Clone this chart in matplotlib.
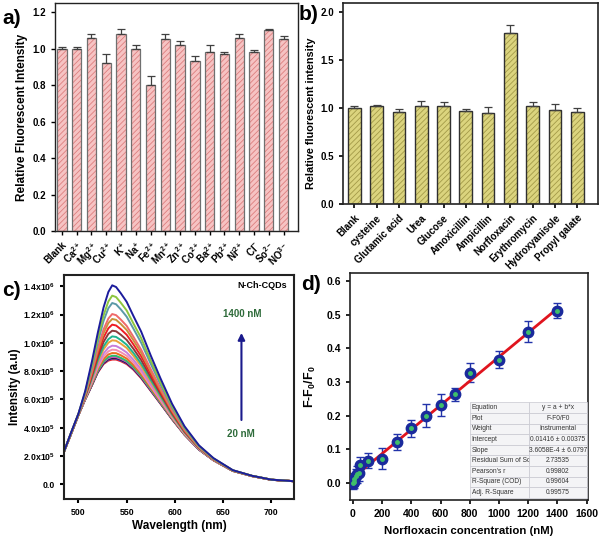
import matplotlib
matplotlib.use("Agg")
import matplotlib.pyplot as plt
import numpy as np

plt.rcParams['font.family'] = ['Liberation Sans', 'DejaVu Sans']
plt.rcParams['font.weight'] = 'bold'
plt.rcParams['mathtext.fontset'] = 'custom'
plt.rcParams['mathtext.rm'] = 'Liberation Sans:bold'
plt.rcParams['mathtext.bf'] = 'Liberation Sans:bold'
plt.rcParams['mathtext.it'] = 'Liberation Sans:bold'
plt.rcParams['mathtext.default'] = 'bf'
plt.rcParams['hatch.linewidth'] = 0.6
plt.rcParams['xtick.direction'] = 'out'
plt.rcParams['ytick.direction'] = 'out'

# ---------------- data ----------------
ions = ["Blank", "Ca$^{2+}$", "Mg$^{2+}$", "Cu$^{2+}$", "K$^{+}$", "Na$^{+}$", "Fe$^{2+}$",
        "Mn$^{2+}$", "Zn$^{2+}$", "Co$^{2+}$", "Ba$^{2+}$", "Pb$^{2+}$", "Ni$^{2+}$",
        "Cl$^{-}$", "So$^{2-}$", "NO$^{3-}$"]
ion_values = [1.00, 1.00, 1.06, 0.92, 1.08, 1.00, 0.80, 1.05, 1.02, 0.93, 0.98, 0.97,
              1.06, 0.98, 1.10, 1.05]
ion_errors = [0.01, 0.01, 0.02, 0.05, 0.03, 0.02, 0.05, 0.03, 0.02, 0.03, 0.04, 0.01,
              0.02, 0.01, 0.01, 0.02]

molecules = ["Blank", "cysteine", "Glutamic acid", "Urea", "Glucose", "Amoxicillin",
             "Ampicillin", "Norfloxacin", "Erythromycin", "Hydroxyanisole", "Propyl galate"]
mol_values = [1.00, 1.02, 0.96, 1.02, 1.02, 0.97, 0.95, 1.78, 1.02, 0.98, 0.96]
mol_errors = [0.02, 0.01, 0.03, 0.05, 0.04, 0.02, 0.06, 0.08, 0.04, 0.06, 0.04]

wavelength = [485, 492, 500, 507, 514, 520, 526, 531, 535, 539, 544, 550, 557, 565,
              575, 585, 597, 610, 625, 640, 660, 680, 700, 723]
# intensities in units of 1e5, from 1400 nM (top) down to 20 nM (bottom)
spectra = [
    [2.31, 3.60, 5.00, 6.60, 8.70, 10.70, 12.50, 13.60, 14.07, 13.95, 13.50, 12.90, 11.90, 10.80, 9.10, 7.50, 5.70, 4.10, 2.75, 1.85, 1.00, 0.60, 0.33, 0.22],
    [2.31, 3.59, 4.99, 6.52, 8.46, 10.31, 11.94, 12.93, 13.34, 13.24, 12.83, 12.29, 11.37, 10.34, 8.75, 7.25, 5.55, 4.02, 2.71, 1.83, 0.99, 0.60, 0.33, 0.22],
    [2.31, 3.58, 4.98, 6.46, 8.30, 10.03, 11.55, 12.45, 12.82, 12.73, 12.36, 11.85, 11.00, 10.01, 8.51, 7.07, 5.44, 3.96, 2.68, 1.81, 0.99, 0.60, 0.33, 0.22],
    [2.31, 3.56, 4.96, 6.37, 8.04, 9.62, 10.95, 11.72, 12.04, 11.96, 11.64, 11.20, 10.43, 9.52, 8.13, 6.80, 5.27, 3.87, 2.63, 1.79, 0.98, 0.59, 0.33, 0.22],
    [2.31, 3.55, 4.95, 6.33, 7.93, 9.43, 10.69, 11.40, 11.69, 11.63, 11.33, 10.91, 10.18, 9.31, 7.97, 6.68, 5.20, 3.83, 2.61, 1.78, 0.98, 0.59, 0.33, 0.22],
    [2.31, 3.55, 4.95, 6.28, 7.80, 9.22, 10.38, 11.03, 11.29, 11.23, 10.96, 10.57, 9.89, 9.05, 7.78, 6.55, 5.12, 3.78, 2.59, 1.77, 0.97, 0.59, 0.32, 0.22],
    [2.31, 3.54, 4.94, 6.23, 7.66, 8.99, 10.06, 10.64, 10.86, 10.82, 10.57, 10.21, 9.58, 8.78, 7.57, 6.40, 5.03, 3.73, 2.57, 1.76, 0.97, 0.59, 0.32, 0.22],
    [2.31, 3.53, 4.93, 6.19, 7.53, 8.77, 9.75, 10.26, 10.46, 10.42, 10.20, 9.87, 9.29, 8.53, 7.38, 6.26, 4.94, 3.69, 2.54, 1.75, 0.97, 0.59, 0.32, 0.22],
    [2.31, 3.53, 4.93, 6.16, 7.44, 8.63, 9.54, 10.01, 10.18, 10.15, 9.94, 9.64, 9.08, 8.35, 7.25, 6.17, 4.88, 3.66, 2.53, 1.74, 0.96, 0.58, 0.32, 0.22],
    [2.31, 3.52, 4.92, 6.11, 7.32, 8.42, 9.25, 9.66, 9.80, 9.78, 9.60, 9.32, 8.81, 8.12, 7.07, 6.04, 4.81, 3.61, 2.51, 1.73, 0.96, 0.58, 0.32, 0.22],
    [2.31, 3.51, 4.91, 6.08, 7.23, 8.27, 9.03, 9.40, 9.52, 9.50, 9.34, 9.09, 8.61, 7.94, 6.93, 5.94, 4.75, 3.58, 2.49, 1.72, 0.96, 0.58, 0.32, 0.22],
    [2.31, 3.51, 4.91, 6.05, 7.15, 8.15, 8.85, 9.18, 9.28, 9.27, 9.12, 8.89, 8.43, 7.79, 6.82, 5.86, 4.70, 3.55, 2.48, 1.71, 0.95, 0.58, 0.32, 0.22],
    [2.31, 3.50, 4.90, 6.03, 7.09, 8.04, 8.70, 9.00, 9.09, 9.08, 8.94, 8.72, 8.29, 7.67, 6.73, 5.79, 4.66, 3.53, 2.47, 1.71, 0.95, 0.58, 0.32, 0.22],
    [2.31, 3.50, 4.90, 6.02, 7.06, 8.00, 8.64, 8.91, 9.00, 8.99, 8.86, 8.65, 8.23, 7.61, 6.68, 5.76, 4.64, 3.52, 2.46, 1.70, 0.95, 0.58, 0.32, 0.22],
    [2.31, 3.50, 4.90, 6.02, 7.04, 7.97, 8.60, 8.87, 8.95, 8.95, 8.82, 8.61, 8.20, 7.58, 6.66, 5.75, 4.63, 3.52, 2.46, 1.70, 0.95, 0.58, 0.32, 0.22],
    [2.31, 3.50, 4.90, 6.01, 7.03, 7.94, 8.56, 8.82, 8.90, 8.90, 8.77, 8.57, 8.16, 7.55, 6.64, 5.73, 4.62, 3.51, 2.45, 1.70, 0.95, 0.58, 0.32, 0.22],
    [2.31, 3.50, 4.90, 6.00, 7.00, 7.90, 8.50, 8.75, 8.82, 8.82, 8.70, 8.50, 8.10, 7.50, 6.60, 5.70, 4.60, 3.50, 2.45, 1.70, 0.95, 0.58, 0.32, 0.22],
]
spectra_colors = ['#1c1c9c', '#8dc63f', '#5b9aa8', '#f06a6a', '#c8923a', '#ee1c24',
                  '#8b3a3a', '#1fb58f', '#e9a23b', '#c77ddb', '#f48fb1', '#e66e1e',
                  '#2dbd6e', '#d04fc0', '#111111', '#2040d0', '#e8202a']
c_yticks = [0.0, 2e5, 4e5, 6e5, 8e5, 1.0e6, 1.2e6, 1.4e6]
c_yticklabels = ["0.0", "2.0x10$^5$", "4.0x10$^5$", "6.0x10$^5$", "8.0x10$^5$",
                 "1.0x10$^6$", "1.2x10$^6$", "1.4x10$^6$"]

conc = [0, 5, 10, 20, 30, 40, 50, 100, 200, 300, 400, 500, 600, 700, 800, 1000, 1200, 1400]
ratio = [0.0, 0.003, 0.01, 0.02, 0.025, 0.03, 0.052, 0.065, 0.071, 0.121, 0.162, 0.200,
         0.232, 0.263, 0.328, 0.367, 0.450, 0.513]
ratio_err = [0.02, 0.02, 0.02, 0.02, 0.025, 0.025, 0.025, 0.022, 0.032, 0.025, 0.025,
             0.035, 0.033, 0.02, 0.028, 0.025, 0.032, 0.022]
fit_intercept = 0.01416
fit_slope = 3.6058e-4
table_rows = [
    ["Equation", "y = a + b*x"],
    ["Plot", "F-F0/F0"],
    ["Weight", "Instrumental"],
    ["Intercept", "0.01416 \u00b1 0.00375"],
    ["Slope", "3.6058E-4 \u00b1 6.0797"],
    ["Residual Sum of Squ", "2.73535"],
    ["Pearson's r", "0.99802"],
    ["R-Square (COD)", "0.99604"],
    ["Adj. R-Square", "0.99575"],
]

# ---------------- figure ----------------
fig = plt.figure(figsize=(6, 5.41), dpi=100)
W, H = 600, 541


def box(l, t, r, b):
    return [l / W, 1 - b / H, (r - l) / W, (b - t) / H]


def style(ax, lw=1.0, fs=7.5):
    for s in ax.spines.values():
        s.set_linewidth(lw)
        s.set_color('#222222')
    ax.tick_params(labelsize=fs, width=lw, length=3)
    for lab in ax.get_xticklabels() + ax.get_yticklabels():
        lab.set_fontweight('bold')


# ----- panel a -----
axa = fig.add_axes(box(55, 3, 298, 231))
xa = np.arange(len(ions))
axa.bar(xa, ion_values, width=0.63, color='#f6c3c3', edgecolor='#dd7f7f',
        hatch='//////', linewidth=0, zorder=2)
axa.bar(xa, ion_values, width=0.63, fill=False, edgecolor='#707070', linewidth=0.9, zorder=3)
axa.errorbar(xa, ion_values, yerr=[np.zeros(len(ion_errors)), ion_errors], fmt='none',
             ecolor='#404040', elinewidth=0.9, capsize=3, capthick=0.9, zorder=4)
axa.set_xlim(-0.47, 15.98)
axa.set_ylim(0, 1.25)
axa.set_yticks([0.0, 0.2, 0.4, 0.6, 0.8, 1.0, 1.2])
axa.set_yticklabels(["0.0", "0.2", "0.4", "0.6", "0.8", "1.0", "1.2"])
axa.set_xticks(xa)
axa.set_xticklabels(ions, rotation=45, ha='right', rotation_mode='anchor')
axa.set_ylabel("Relative Fluorescent Intensity", fontsize=8.5, fontweight='bold', labelpad=3)
style(axa, 1.0, 7)
fig.text(2 / W, 1 - 18 / H, "a)", fontsize=15, fontweight='bold', va='center', ha='left')

# ----- panel b -----
axb = fig.add_axes(box(343, 3, 598, 204))
xb = np.arange(len(molecules))
axb.bar(xb, mol_values, width=0.57, color='#dbd47e', edgecolor='#a39a48',
        hatch='//////', linewidth=0, zorder=2)
axb.bar(xb, mol_values, width=0.57, fill=False, edgecolor='#303030', linewidth=1.0, zorder=3)
axb.errorbar(xb, mol_values, yerr=[np.zeros(len(mol_errors)), mol_errors], fmt='none',
             ecolor='#404040', elinewidth=0.9, capsize=3, capthick=0.9, zorder=4)
axb.set_xlim(-0.51, 10.93)
axb.set_ylim(0, 2.09)
axb.set_yticks([0.0, 0.5, 1.0, 1.5, 2.0])
axb.set_yticklabels(["0.0", "0.5", "1.0", "1.5", "2.0"])
axb.set_xticks(xb)
axb.set_xticklabels(molecules, rotation=45, ha='right', rotation_mode='anchor')
axb.set_ylabel("Relative fluorescent intensity", fontsize=7.8, fontweight='bold', labelpad=3)
axb.yaxis.set_label_coords(-0.105, 0.45)
style(axb, 1.2, 7)
fig.text(299 / W, 1 - 14 / H, "b)", fontsize=15, fontweight='bold', va='center', ha='left')

# ----- panel c -----
axc = fig.add_axes(box(64, 275, 294, 499))
wl = np.array(wavelength)
for row, col in list(zip(spectra, spectra_colors))[::-1]:
    axc.plot(wl, np.array(row) * 1e5, color=col, linewidth=1.4)
axc.set_xlim(485, 723.5)
axc.set_ylim(-1.04e5, 1.48e6)
axc.set_xticks([500, 550, 600, 650, 700])
axc.set_yticks(c_yticks)
axc.set_yticklabels(c_yticklabels)
axc.set_xlabel("Wavelength (nm)", fontsize=8.5, fontweight='bold', labelpad=2)
axc.set_ylabel("Intensity (a.u)", fontsize=8.5, fontweight='bold', labelpad=1)
style(axc, 1.5, 6.3)
axc.text(0.97, 0.955, "N-Ch-CQDs", transform=axc.transAxes, ha='right', va='center',
         fontsize=6.5, fontweight='bold')
axc.annotate("", xy=(669, 10.9e5), xytext=(669, 4.35e5),
             arrowprops=dict(arrowstyle='-|>', color='#1a1a8c', lw=1.5, mutation_scale=10))
axc.text(670, 12.05e5, "1400 nM", ha='center', va='center', fontsize=7,
         fontweight='bold', color='#2e6b3a')
axc.text(668, 3.55e5, "20 nM", ha='center', va='center', fontsize=7,
         fontweight='bold', color='#2e6b3a')
fig.text(2 / W, 1 - 290 / H, "c)", fontsize=15, fontweight='bold', va='center', ha='left')

# ----- panel d -----
axd = fig.add_axes(box(350, 273, 588, 500))
xs = np.array([min(conc), max(conc)])
axd.plot(xs, fit_intercept + fit_slope * xs, color='#e0141e', linewidth=2.0, zorder=3)
axd.errorbar(conc, ratio, yerr=ratio_err, fmt='none', ecolor='#2233aa', elinewidth=1.0,
             capsize=3, capthick=1.0, zorder=2)
axd.plot(conc, ratio, 'o', color='#1a2a9c', markersize=7.5, zorder=4)
axd.plot(conc, ratio, 'o', color='#3fbf6a', markersize=2.5, zorder=5)
axd.set_xlim(-20, 1610)
axd.set_ylim(-0.052, 0.625)
axd.set_xticks(range(0, 1601, 200))
axd.set_yticks([0.0, 0.1, 0.2, 0.3, 0.4, 0.5, 0.6])
axd.set_yticklabels(["0.0", "0.1", "0.2", "0.3", "0.4", "0.5", "0.6"])
axd.set_xlabel("Norfloxacin concentration (nM)", fontsize=8.2, fontweight='bold', labelpad=5)
axd.set_ylabel("F-F$_0$/F$_0$", fontsize=9, fontweight='bold', labelpad=6)
style(axd, 1.2, 7.5)
tab = axd.table(cellText=table_rows, cellLoc='left', colWidths=[0.51, 0.49],
                bbox=[0.504, 0.01, 0.49, 0.42], zorder=6)
tab.auto_set_font_size(False)
for (r, c), cell in tab.get_celld().items():
    cell.set_facecolor('#f4f4f6')
    cell.set_edgecolor('#c8c8d0')
    cell.set_linewidth(0.5)
    cell.get_text().set_fontsize(4.8)
    cell.get_text().set_fontweight('normal')
    cell.get_text().set_color('#333333')
    cell.PAD = 0.03
    if c == 1:
        cell.get_text().set_ha('center')
        cell._loc = 'center'
fig.text(301 / W, 1 - 284 / H, "d)", fontsize=15, fontweight='bold', va='center', ha='left')

fig.savefig("out.png", dpi=100)
